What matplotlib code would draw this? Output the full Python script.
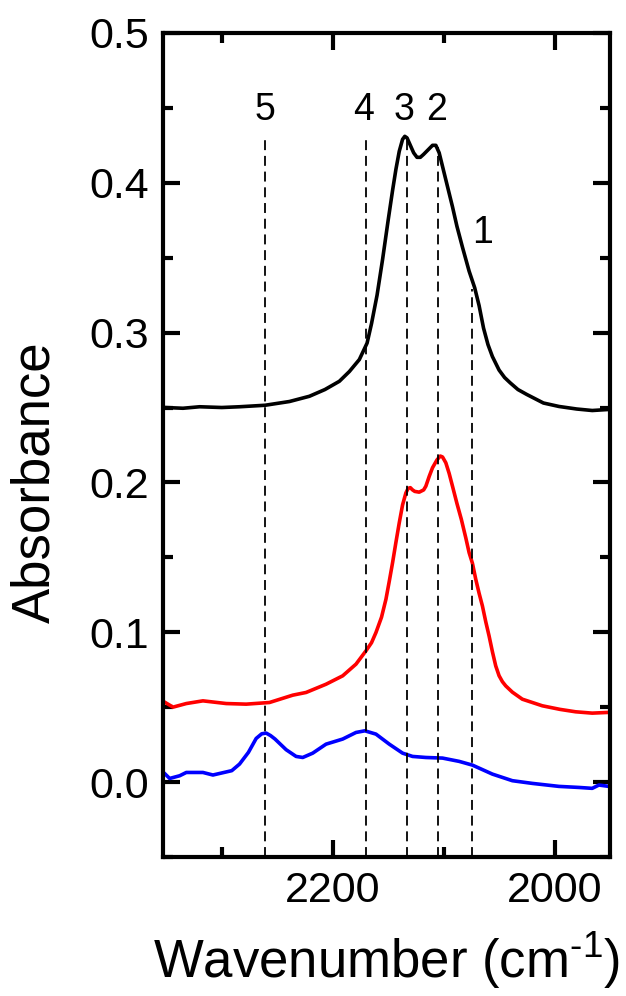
import matplotlib
matplotlib.use("Agg")
import matplotlib.pyplot as plt
from matplotlib.ticker import MultipleLocator

plt.rcParams["font.family"] = ["Liberation Sans", "DejaVu Sans"]
plt.rcParams["mathtext.fontset"] = "custom"
plt.rcParams["mathtext.rm"] = "Liberation Sans"
plt.rcParams["mathtext.default"] = "regular"

# top spectrum (black, offset)
black_w = [2351, 2335, 2320, 2300, 2284, 2261, 2239, 2221, 2207, 2194, 2185,
           2176, 2169, 2165, 2160, 2155, 2150, 2146, 2143, 2140, 2137, 2135,
           2133, 2130, 2127, 2124, 2121, 2118, 2114, 2110, 2107, 2104, 2101,
           2097, 2092, 2088, 2083, 2077, 2072, 2068, 2064, 2060, 2056, 2050,
           2045, 2040, 2033, 2025, 2010, 1996, 1980, 1966, 1951]
black_a = [0.250, 0.2495, 0.2505, 0.250, 0.2505, 0.2515, 0.254, 0.2575, 0.262,
           0.2675, 0.274, 0.282, 0.293, 0.306, 0.325, 0.349, 0.375, 0.395,
           0.409, 0.421, 0.429, 0.431, 0.430, 0.425, 0.420, 0.417, 0.417, 0.419,
           0.422, 0.425, 0.425, 0.420, 0.411, 0.399, 0.384, 0.371, 0.357, 0.341,
           0.330, 0.318, 0.303, 0.292, 0.284, 0.275, 0.270, 0.2665, 0.262,
           0.2587, 0.253, 0.2507, 0.249, 0.248, 0.2487]

# middle spectrum (red)
red_w = [2351, 2344, 2332, 2317, 2296, 2278, 2257, 2236, 2224, 2206, 2191, 2179,
         2170, 2165, 2161, 2156, 2152, 2149, 2146, 2143, 2140, 2137, 2134, 2132,
         2130, 2128, 2126, 2122, 2118, 2116, 2113, 2110, 2106, 2103, 2101, 2098,
         2095, 2092, 2088, 2084, 2080, 2077, 2074, 2071, 2068, 2065, 2062, 2059,
         2056, 2053, 2050, 2047, 2044, 2038, 2029, 2011, 1995, 1981, 1966, 1951]
red_a = [0.0531, 0.050, 0.0524, 0.0542, 0.0524, 0.052, 0.0531, 0.058, 0.0598,
         0.0653, 0.0709, 0.0787, 0.0876, 0.093, 0.0998, 0.110, 0.122, 0.134,
         0.1465, 0.160, 0.173, 0.185, 0.193, 0.196, 0.1965, 0.195, 0.194,
         0.1935, 0.195, 0.1975, 0.204, 0.2098, 0.215, 0.2176, 0.217, 0.2131,
         0.206, 0.1975, 0.186, 0.1753, 0.163, 0.1531, 0.146, 0.1353, 0.126,
         0.1175, 0.107, 0.0975, 0.087, 0.0775, 0.071, 0.067, 0.0642, 0.060,
         0.0553, 0.0509, 0.0485, 0.0469, 0.046, 0.0465]

# bottom spectrum (blue)
blue_w = [2351, 2347, 2338, 2332, 2317, 2308, 2291, 2284, 2276, 2269, 2264, 2260,
          2256, 2252, 2242, 2233, 2227, 2218, 2206, 2191, 2179, 2171, 2161, 2149,
          2137, 2128, 2116, 2101, 2086, 2074, 2056, 2038, 2020, 1996, 1978, 1966,
          1960, 1951]
blue_a = [0.0053, 0.0024, 0.0042, 0.0064, 0.0064, 0.0047, 0.0076, 0.012, 0.0198,
          0.0291, 0.0322, 0.0327, 0.031, 0.0287, 0.0216, 0.0171, 0.0164, 0.0193,
          0.0253, 0.0287, 0.0331, 0.0342, 0.032, 0.0253, 0.0193, 0.0171, 0.0164,
          0.016, 0.0138, 0.0113, 0.0053, 0.0009, -0.0009, -0.0029, -0.0036,
          -0.0042, -0.002, -0.0029]

# band markers
band_labels = ["1", "2", "3", "4", "5"]
band_pos = [2074, 2105, 2133, 2170, 2261]
band_top = [0.329, 0.424, 0.430, 0.432, 0.432]
label_x = [2065, 2106, 2136, 2172, 2261]
label_y = [0.3667, 0.4487, 0.4487, 0.4487, 0.4487]

fig = plt.figure(figsize=(6.26, 9.96), dpi=100)
ax = fig.add_axes([0.2604, 0.1396, 0.714, 0.8273])

ax.plot(black_w, black_a, color="black", lw=2.6)
ax.plot(red_w, red_a, color="#ff0000", lw=2.6)
ax.plot(blue_w, blue_a, color="#0000ff", lw=2.6)

ymin = -0.05
for p, t in zip(band_pos, band_top):
    ax.plot([p, p], [ymin, t], color="black", lw=1.3, linestyle=(0, (5.5, 3.2)))
for s, x, y in zip(band_labels, label_x, label_y):
    ax.text(x, y, s, fontsize=27, ha="center", va="center")

ax.set_xlim(2353, 1950)
ax.set_ylim(ymin, 0.5)
ax.xaxis.set_major_locator(MultipleLocator(200))
ax.xaxis.set_minor_locator(MultipleLocator(100))
ax.yaxis.set_major_locator(MultipleLocator(0.1))
ax.yaxis.set_minor_locator(MultipleLocator(0.05))
ax.tick_params(which="both", direction="in", top=True, right=True, width=3)
ax.tick_params(which="major", length=12, labelsize=31, pad=10)
ax.tick_params(which="minor", length=7)
for sp in ax.spines.values():
    sp.set_linewidth(3)

ax.set_xlabel(r"Wavenumber (cm$^{\text{-1}}$)", fontsize=38, labelpad=14)
fig.text(0.056, 0.516, "Absorbance", fontsize=38, rotation=90, ha="center", va="center")

fig.savefig("out.png", dpi=100)
